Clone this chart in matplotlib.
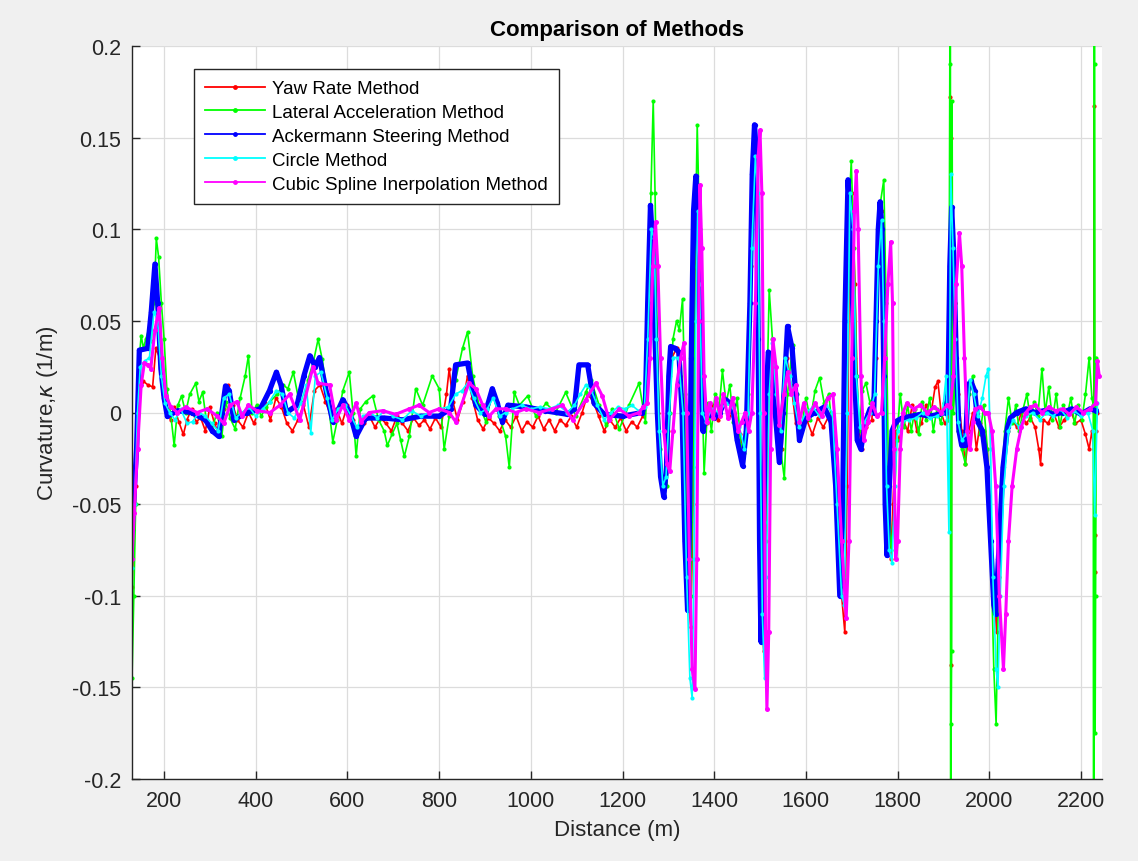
import matplotlib
matplotlib.use("Agg")
import matplotlib.pyplot as plt
from matplotlib.lines import Line2D
from matplotlib.ticker import FuncFormatter

plt.rcParams['font.family'] = ['Liberation Sans', 'DejaVu Sans']
plt.rcParams['axes.unicode_minus'] = False

# (distance m, curvature 1/m)
yaw_rate = [
    (130, -0.095), (138, -0.04), (146, 0.01), (155, 0.017), (165, 0.015), (175, 0.014), (182, 0.035),
    (190, 0.03), (198, 0.01), (206, 0.002), (214, -0.004), (222, 0.003), (232, -0.005), (242, -0.012),
    (250, -0.004), (260, 0.002), (270, -0.005), (280, -0.003), (290, -0.01), (300, 0.003), (310, -0.006),
    (320, -0.012), (330, 0.002), (340, 0.015), (350, 0.004), (360, -0.004), (372, -0.008), (384, 0.0),
    (396, -0.006), (408, 0.002), (420, 0.005), (432, -0.004), (444, 0.008), (456, 0.003), (468, -0.006),
    (480, -0.01), (492, -0.004), (504, 0.004), (516, -0.008), (528, 0.012), (540, 0.015), (552, 0.006),
    (564, -0.002), (576, 0.002), (588, -0.006), (600, 0.004), (612, -0.004), (624, -0.01), (636, -0.006),
    (648, -0.002), (660, -0.008), (672, -0.003), (684, -0.006), (696, -0.01), (708, -0.002), (720, -0.006),
    (732, -0.01), (744, -0.003), (756, -0.007), (768, -0.004), (780, -0.009), (792, -0.003), (804, -0.008),
    (816, 0.01), (822, 0.024), (830, 0.006), (840, -0.004), (852, 0.006), (862, 0.02), (872, 0.008),
    (884, -0.004), (896, -0.009), (908, -0.003), (920, -0.006), (932, -0.01), (944, -0.004), (956, -0.008),
    (968, -0.002), (980, -0.01), (992, -0.005), (1004, -0.008), (1016, -0.002), (1028, -0.009), (1040, -0.004),
    (1052, -0.01), (1064, -0.004), (1076, -0.007), (1088, -0.002), (1100, -0.008), (1112, 0.0), (1124, 0.01),
    (1136, 0.006), (1148, -0.002), (1160, -0.01), (1172, -0.004), (1184, -0.008), (1196, -0.003), (1208, -0.01),
    (1220, -0.005), (1232, -0.008), (1244, -0.002), (1252, 0.01), (1260, 0.07), (1266, 0.1), (1271, 0.07),
    (1278, 0.0), (1286, -0.035), (1294, -0.04), (1300, -0.01), (1308, 0.03), (1318, 0.035), (1326, 0.02),
    (1334, -0.04), (1342, -0.1), (1349, -0.117), (1354, -0.05), (1360, 0.08), (1365, 0.12), (1370, 0.06),
    (1376, 0.0), (1384, -0.006), (1396, 0.004), (1408, -0.004), (1420, 0.006), (1432, -0.002), (1444, 0.004),
    (1456, -0.012), (1464, -0.02), (1472, 0.0), (1480, 0.08), (1487, 0.14), (1493, 0.12), (1498, 0.0),
    (1503, -0.11), (1508, -0.13), (1513, -0.07), (1520, 0.02), (1528, 0.03), (1538, 0.0), (1548, -0.02),
    (1558, 0.03), (1568, 0.015), (1578, -0.006), (1590, -0.01), (1602, -0.004), (1614, -0.012), (1626, -0.003),
    (1638, -0.008), (1650, -0.002), (1660, -0.02), (1670, -0.07), (1678, -0.1), (1685, -0.12), (1690, -0.04),
    (1695, 0.08), (1701, 0.12), (1707, 0.07), (1714, -0.005), (1722, -0.02), (1732, -0.008), (1744, -0.004),
    (1752, 0.03), (1760, 0.1), (1766, 0.11), (1772, 0.03), (1778, -0.06), (1785, -0.08), (1790, -0.05),
    (1796, -0.01), (1804, -0.015), (1812, -0.004), (1822, -0.01), (1832, 0.004), (1842, -0.01), (1852, -0.006),
    (1862, 0.004), (1872, -0.002), (1882, 0.014), (1888, 0.017), (1895, 0.0), (1903, -0.006), (1910, -0.004),
    (1913, 0.005), (1915, 0.172), (1916, 0.15), (1917, -0.138), (1918, 0.05), (1920, 0.01), (1925, 0.06),
    (1932, 0.01), (1940, -0.01), (1948, -0.028), (1956, -0.01), (1964, 0.0), (1972, -0.02), (1980, -0.006),
    (1988, -0.01), (1996, -0.02), (2004, -0.07), (2011, -0.1), (2016, -0.12), (2022, -0.09), (2030, -0.03),
    (2040, -0.01), (2050, -0.004), (2060, -0.008), (2070, 0.0), (2080, -0.006), (2090, -0.003), (2100, -0.008),
    (2108, -0.02), (2112, -0.028), (2118, -0.004), (2128, -0.006), (2140, 0.0), (2152, -0.008), (2164, -0.004),
    (2176, 0.002), (2188, -0.006), (2200, -0.004), (2210, -0.012), (2218, -0.02), (2224, -0.01), (2228, -0.02),
    (2229, 0.167), (2230, -0.087), (2231, -0.067), (2232, -0.01), (2236, 0.0),
]

lateral_acc = [
    (130, -0.145), (134, -0.1), (138, -0.05), (142, 0.0), (146, 0.03), (150, 0.042), (155, 0.035),
    (160, 0.04), (166, 0.045), (172, 0.039), (178, 0.06), (183, 0.095), (188, 0.085), (194, 0.06),
    (200, 0.04), (206, 0.013), (214, 0.0), (222, -0.018), (230, 0.004), (238, 0.009), (247, 0.0),
    (256, 0.01), (269, 0.016), (276, 0.006), (284, 0.011), (292, -0.004), (305, -0.009), (315, 0.0),
    (326, -0.013), (334, 0.006), (344, -0.003), (355, -0.009), (366, 0.008), (377, 0.02), (384, 0.031),
    (392, 0.0), (402, 0.004), (412, -0.002), (422, 0.003), (432, 0.006), (446, 0.01), (460, 0.015),
    (470, 0.013), (482, 0.022), (492, 0.009), (504, 0.005), (514, 0.018), (526, 0.028), (536, 0.04),
    (545, 0.029), (556, 0.01), (568, -0.016), (578, -0.004), (590, 0.012), (604, 0.022), (612, 0.0),
    (619, -0.024), (628, 0.002), (640, 0.006), (655, 0.009), (668, -0.004), (680, -0.01), (687, -0.018),
    (697, -0.012), (708, -0.006), (716, -0.015), (724, -0.024), (735, -0.013), (749, 0.013), (764, 0.004),
    (785, 0.02), (800, 0.013), (811, -0.02), (822, -0.002), (836, 0.018), (851, 0.035), (862, 0.044),
    (873, 0.02), (887, 0.004), (902, -0.005), (916, 0.011), (931, -0.002), (945, -0.013), (953, -0.03),
    (964, 0.011), (975, 0.004), (993, 0.009), (1011, -0.002), (1033, 0.005), (1054, 0.0), (1076, 0.011),
    (1098, -0.002), (1120, 0.011), (1131, 0.018), (1149, 0.004), (1164, -0.007), (1178, 0.002), (1193, -0.009),
    (1214, 0.004), (1236, 0.016), (1250, -0.005), (1256, 0.03), (1262, 0.12), (1267, 0.17), (1271, 0.12),
    (1276, 0.04), (1282, -0.02), (1290, -0.045), (1297, -0.04), (1303, 0.0), (1310, 0.04), (1318, 0.05),
    (1324, 0.045), (1331, 0.062), (1336, 0.01), (1343, -0.09), (1349, -0.1), (1354, -0.03), (1358, 0.08),
    (1363, 0.157), (1368, 0.1), (1373, 0.02), (1378, -0.033), (1386, 0.005), (1394, -0.01), (1402, 0.01),
    (1410, 0.0), (1418, 0.023), (1426, 0.005), (1434, 0.015), (1442, -0.005), (1450, 0.008), (1458, -0.018),
    (1466, -0.022), (1474, 0.01), (1480, 0.09), (1486, 0.15), (1491, 0.13), (1496, 0.02), (1501, -0.1),
    (1506, -0.12), (1511, -0.06), (1516, 0.02), (1520, 0.067), (1527, 0.04), (1535, 0.01), (1545, -0.02),
    (1553, -0.036), (1560, 0.01), (1571, 0.037), (1580, 0.01), (1590, -0.01), (1600, 0.008), (1610, -0.004),
    (1620, 0.012), (1630, 0.019), (1640, 0.005), (1650, 0.01), (1658, -0.01), (1666, -0.05), (1674, -0.095),
    (1680, -0.09), (1686, 0.0), (1692, 0.1), (1699, 0.137), (1705, 0.09), (1711, 0.02), (1717, -0.01),
    (1723, 0.012), (1731, 0.016), (1740, 0.005), (1748, 0.01), (1754, 0.06), (1760, 0.11), (1770, 0.127),
    (1775, 0.06), (1780, -0.03), (1786, -0.075), (1792, -0.06), (1798, -0.015), (1806, 0.01), (1814, -0.008),
    (1822, 0.004), (1830, -0.01), (1838, 0.002), (1846, -0.012), (1854, 0.006), (1862, -0.004), (1870, 0.008),
    (1878, -0.01), (1886, 0.002), (1894, -0.006), (1902, 0.005), (1908, -0.004), (1912, 0.01), (1914, 0.19),
    (1915, 0.5), (1916, -0.5), (1917, -0.17), (1918, -0.13), (1919, 0.17), (1920, 0.06), (1922, 0.0),
    (1926, 0.02), (1932, -0.01), (1940, -0.02), (1948, -0.028), (1956, 0.01), (1964, 0.02), (1972, 0.0),
    (1980, -0.012), (1988, 0.004), (1996, -0.02), (2004, -0.08), (2010, -0.14), (2015, -0.17), (2020, -0.1),
    (2026, -0.04), (2034, -0.01), (2042, 0.008), (2050, -0.006), (2058, 0.004), (2066, -0.01), (2074, 0.002),
    (2082, 0.01), (2090, -0.004), (2098, 0.006), (2106, -0.002), (2115, 0.024), (2122, 0.0), (2130, 0.014),
    (2138, -0.004), (2146, 0.01), (2154, -0.008), (2162, 0.004), (2170, -0.002), (2178, 0.008), (2186, -0.006),
    (2194, 0.004), (2202, -0.004), (2210, 0.01), (2218, 0.03), (2224, 0.008), (2227, 0.004), (2228, -0.5),
    (2229, 0.5), (2230, 0.19), (2231, -0.175), (2232, -0.1), (2234, 0.03),
]

ackermann = [
    (130, -0.064), (140, -0.02), (146, 0.034), (164, 0.035), (172, 0.055), (180, 0.081), (186, 0.06),
    (193, 0.024), (200, 0.008), (207, -0.002), (230, 0.001), (260, 0.0), (290, -0.004), (305, -0.01),
    (319, -0.013), (326, 0.0), (334, 0.0145), (342, 0.012), (352, -0.004), (380, 0.0), (410, 0.002),
    (430, 0.012), (445, 0.022), (455, 0.015), (467, 0.0), (490, 0.004), (505, 0.02), (518, 0.031),
    (530, 0.025), (539, 0.03), (555, 0.01), (568, -0.005), (590, 0.007), (605, 0.0), (619, -0.013),
    (640, -0.003), (680, -0.003), (720, -0.004), (760, -0.002), (800, -0.002), (825, 0.002), (836, 0.026),
    (862, 0.027), (880, 0.004), (900, -0.001), (916, 0.013), (927, 0.005), (938, -0.005), (950, 0.004),
    (990, 0.003), (1030, 0.001), (1080, -0.001), (1095, 0.002), (1105, 0.026), (1124, 0.026), (1138, 0.005),
    (1160, -0.001), (1200, -0.002), (1243, 0.0), (1250, 0.005), (1255, 0.06), (1261, 0.113), (1266, 0.09),
    (1271, 0.04), (1276, 0.0), (1283, -0.035), (1290, -0.046), (1296, -0.03), (1301, 0.02), (1305, 0.036),
    (1315, 0.035), (1323, 0.033), (1330, 0.0), (1336, -0.07), (1342, -0.108), (1346, -0.06), (1350, 0.03),
    (1355, 0.11), (1360, 0.129), (1365, 0.1), (1370, 0.03), (1375, -0.01), (1385, 0.0), (1400, -0.003),
    (1412, 0.0), (1425, 0.007), (1440, 0.004), (1450, -0.015), (1462, -0.029), (1470, -0.01), (1478, 0.06),
    (1483, 0.13), (1488, 0.157), (1492, 0.14), (1496, 0.04), (1499, -0.07), (1502, -0.125), (1506, -0.08),
    (1512, 0.0), (1518, 0.033), (1530, 0.01), (1542, -0.027), (1550, 0.0), (1560, 0.047), (1570, 0.035),
    (1578, 0.01), (1586, -0.015), (1600, -0.003), (1620, 0.0), (1640, 0.003), (1655, -0.005), (1665, -0.04),
    (1674, -0.1), (1680, -0.06), (1685, 0.05), (1692, 0.127), (1698, 0.1), (1705, 0.03), (1712, -0.015),
    (1720, -0.02), (1730, -0.005), (1740, 0.002), (1748, 0.0), (1753, 0.05), (1758, 0.1), (1762, 0.115),
    (1766, 0.1), (1770, 0.02), (1773, -0.05), (1777, -0.078), (1782, -0.04), (1788, -0.01), (1796, -0.005),
    (1810, -0.003), (1830, -0.002), (1850, -0.001), (1870, -0.002), (1890, -0.001), (1905, 0.0), (1910, 0.01),
    (1914, 0.08), (1918, 0.112), (1922, 0.09), (1928, 0.03), (1934, -0.01), (1940, -0.018), (1948, -0.018),
    (1954, 0.015), (1960, 0.017), (1968, 0.012), (1975, -0.005), (1985, -0.01), (1995, -0.03), (2003, -0.07),
    (2010, -0.105), (2014, -0.11), (2020, -0.08), (2030, -0.03), (2040, -0.008), (2046, -0.003), (2060, 0.0),
    (2080, 0.002), (2100, 0.0), (2120, 0.001), (2140, -0.001), (2160, 0.0), (2180, 0.002), (2200, -0.001),
    (2220, 0.002), (2232, 0.001),
]

circle = [
    (130, -0.085), (136, -0.05), (142, 0.0), (148, 0.025), (158, 0.028), (168, 0.03), (178, 0.055),
    (186, 0.05), (194, 0.02), (202, 0.005), (212, 0.0), (224, -0.004), (236, 0.002), (250, -0.006),
    (262, -0.005), (276, 0.0), (290, -0.002), (304, -0.006), (318, -0.01), (330, 0.008), (342, 0.01),
    (356, -0.003), (370, 0.0), (385, 0.003), (400, -0.002), (415, 0.002), (430, 0.006), (445, 0.012),
    (458, 0.01), (470, 0.0), (484, -0.003), (498, 0.005), (510, 0.015), (520, -0.011), (530, 0.02),
    (542, 0.022), (556, 0.008), (566, -0.004), (580, 0.002), (595, 0.004), (608, -0.002), (620, -0.008),
    (635, -0.002), (650, 0.0), (665, -0.003), (680, 0.001), (700, -0.002), (720, -0.004), (740, 0.001),
    (760, -0.002), (780, 0.0), (800, 0.002), (820, 0.003), (836, 0.01), (850, 0.012), (862, 0.016),
    (875, 0.008), (890, 0.0), (905, 0.002), (918, 0.008), (932, -0.002), (945, 0.0), (960, 0.002),
    (980, 0.004), (1000, 0.002), (1020, 0.003), (1040, 0.002), (1060, 0.004), (1080, 0.0), (1095, 0.004),
    (1108, 0.01), (1120, 0.015), (1132, 0.012), (1145, 0.004), (1160, -0.004), (1175, 0.0), (1190, 0.003),
    (1205, 0.002), (1220, 0.004), (1235, 0.001), (1248, 0.003), (1255, 0.04), (1263, 0.1), (1269, 0.095),
    (1274, 0.04), (1280, -0.01), (1288, -0.04), (1295, -0.035), (1302, 0.0), (1310, 0.03), (1322, 0.03),
    (1332, 0.0), (1340, -0.09), (1347, -0.145), (1352, -0.156), (1356, -0.08), (1360, 0.05), (1364, 0.11),
    (1368, 0.07), (1374, 0.0), (1382, -0.005), (1395, 0.002), (1410, 0.0), (1425, 0.005), (1440, 0.003),
    (1455, -0.008), (1466, -0.02), (1474, 0.0), (1482, 0.09), (1490, 0.14), (1495, 0.12), (1500, 0.0),
    (1505, -0.11), (1510, -0.145), (1514, -0.09), (1520, 0.01), (1527, 0.038), (1535, 0.01), (1545, -0.01),
    (1555, 0.03), (1565, 0.02), (1575, 0.005), (1585, -0.008), (1600, 0.0), (1615, 0.003), (1630, -0.002),
    (1645, 0.004), (1658, 0.0), (1668, -0.05), (1678, -0.1), (1684, -0.105), (1690, 0.0), (1696, 0.12),
    (1703, 0.1), (1710, 0.02), (1718, -0.008), (1728, -0.005), (1740, 0.0), (1750, 0.01), (1758, 0.08),
    (1765, 0.105), (1770, 0.05), (1776, -0.04), (1782, -0.075), (1788, -0.082), (1794, -0.04), (1800, -0.01),
    (1810, -0.005), (1825, -0.004), (1840, -0.003), (1855, 0.0), (1870, -0.003), (1885, -0.002), (1898, 0.0),
    (1906, 0.02), (1912, -0.065), (1916, 0.13), (1921, 0.09), (1926, 0.04), (1932, -0.005), (1940, -0.015),
    (1950, -0.012), (1958, 0.018), (1966, 0.01), (1975, -0.002), (1985, 0.008), (1993, 0.02), (1998, 0.024),
    (2003, -0.02), (2008, -0.09), (2015, -0.14), (2019, -0.15), (2024, -0.1), (2032, -0.04), (2042, -0.01),
    (2052, -0.004), (2065, -0.008), (2080, -0.002), (2095, 0.0), (2110, -0.004), (2125, 0.0), (2140, -0.002),
    (2155, 0.002), (2170, -0.003), (2185, 0.001), (2200, -0.002), (2215, 0.0), (2226, -0.01), (2230, -0.056),
    (2236, 0.005),
]

cubic_spline = [
    (130, -0.08), (135, -0.055), (142, -0.02), (150, 0.015), (157, 0.027), (165, 0.026), (171, 0.024),
    (180, 0.045), (189, 0.057), (196, 0.03), (204, 0.009), (215, 0.003), (229, 0.0), (247, 0.003),
    (272, 0.0), (294, 0.002), (316, -0.002), (330, -0.006), (344, 0.004), (359, 0.006), (370, -0.002),
    (384, 0.004), (402, 0.001), (431, 0.0), (453, 0.004), (474, 0.01), (496, -0.004), (525, 0.025),
    (536, 0.016), (561, 0.015), (575, -0.004), (590, 0.004), (604, -0.004), (619, 0.005), (630, -0.005),
    (648, 0.0), (677, 0.001), (705, -0.001), (735, 0.002), (756, 0.004), (778, 0.0), (800, 0.002),
    (822, 0.0), (836, -0.005), (865, 0.016), (880, 0.013), (895, 0.004), (909, -0.002), (924, 0.002),
    (945, 0.002), (967, 0.0), (989, 0.002), (1018, 0.0), (1047, 0.002), (1069, 0.004), (1091, -0.004),
    (1120, 0.007), (1142, 0.016), (1156, 0.009), (1171, -0.004), (1193, 0.002), (1214, -0.002), (1236, 0.0),
    (1245, 0.003), (1254, 0.005), (1260, 0.03), (1266, 0.08), (1272, 0.104), (1277, 0.08), (1283, 0.03),
    (1290, -0.01), (1297, -0.028), (1303, -0.032), (1310, -0.01), (1318, 0.015), (1327, 0.03), (1334, 0.038),
    (1340, 0.0), (1346, -0.08), (1352, -0.14), (1358, -0.151), (1362, -0.08), (1366, 0.05), (1369, 0.124),
    (1373, 0.09), (1378, 0.02), (1384, -0.005), (1390, 0.005), (1398, -0.003), (1405, 0.008), (1413, -0.002),
    (1420, 0.01), (1430, -0.003), (1440, 0.008), (1452, -0.01), (1460, -0.005), (1468, 0.0), (1475, -0.01),
    (1482, 0.0), (1490, 0.06), (1496, 0.14), (1500, 0.154), (1504, 0.12), (1508, 0.0), (1512, -0.12),
    (1515, -0.162), (1519, -0.12), (1523, -0.02), (1528, 0.04), (1535, 0.025), (1542, -0.007), (1552, 0.01),
    (1560, 0.022), (1568, 0.01), (1578, 0.015), (1586, -0.005), (1595, 0.005), (1605, -0.003), (1620, 0.005),
    (1635, -0.002), (1648, 0.008), (1659, 0.01), (1668, -0.02), (1678, -0.07), (1688, -0.112), (1694, -0.07),
    (1700, 0.03), (1706, 0.11), (1710, 0.132), (1714, 0.1), (1720, 0.02), (1726, -0.015), (1735, -0.005),
    (1745, 0.005), (1755, -0.002), (1765, 0.0), (1772, 0.03), (1779, 0.07), (1785, 0.093), (1789, 0.06),
    (1792, -0.02), (1796, -0.08), (1800, -0.07), (1806, -0.02), (1812, 0.0), (1820, 0.005), (1835, 0.002),
    (1850, 0.004), (1865, 0.0), (1880, 0.003), (1895, 0.0), (1908, 0.004), (1915, 0.003), (1922, 0.02),
    (1928, 0.07), (1935, 0.098), (1940, 0.08), (1946, 0.03), (1952, -0.01), (1958, -0.02), (1964, -0.005),
    (1970, 0.002), (1980, 0.003), (1990, 0.0), (1998, 0.0), (2006, -0.01), (2014, -0.04), (2022, -0.1),
    (2031, -0.14), (2036, -0.11), (2042, -0.07), (2050, -0.04), (2060, -0.02), (2070, -0.008), (2080, 0.0),
    (2090, 0.003), (2100, 0.004), (2115, 0.0), (2130, 0.003), (2145, 0.001), (2160, 0.002), (2175, -0.001),
    (2190, 0.003), (2205, 0.0), (2220, 0.002), (2232, 0.005), (2236, 0.028), (2240, 0.02),
]

series = [
    ("Yaw Rate Method", yaw_rate, "#ff0000", 1.2, 3.0),
    ("Lateral Acceleration Method", lateral_acc, "#00ff00", 1.2, 3.0),
    ("Ackermann Steering Method", ackermann, "#0000ff", 3.8, 3.8),
    ("Circle Method", circle, "#00ffff", 1.2, 3.0),
    ("Cubic Spline Inerpolation Method", cubic_spline, "#ff00ff", 2.2, 3.6),
]

fig = plt.figure(figsize=(11.38, 8.62), dpi=100, facecolor="#f0f0f0")
ax = fig.add_axes([132 / 1138, 1 - 780 / 862, 970 / 1138, 733 / 862])

handles = []
for name, pts, color, lw, ms in series:
    d, k = zip(*pts)
    ax.plot(d, k, color=color, lw=lw, marker="o", ms=ms, mew=0, solid_joinstyle="round")
    handles.append(Line2D([], [], color=color, lw=1.3, marker="o", ms=3.5, mew=0, label=name))

ax.set_xlim(130, 2246)
ax.set_ylim(-0.2, 0.2)
ax.set_xticks(range(200, 2201, 200))
ax.set_yticks([-0.2, -0.15, -0.1, -0.05, 0, 0.05, 0.1, 0.15, 0.2])
ax.yaxis.set_major_formatter(FuncFormatter(lambda v, p: f"{v:g}"))
ax.grid(True, color="#dcdcdc", lw=0.9)
ax.set_axisbelow(True)
for s in ["top", "right"]:
    ax.spines[s].set_visible(False)
for s in ["left", "bottom"]:
    ax.spines[s].set_color("#262626")
    ax.spines[s].set_linewidth(1.0)
ax.tick_params(direction="in", length=6, width=1, colors="#262626", labelsize=15.5, pad=8)

ax.set_xlabel("Distance (m)", fontsize=16, color="#262626", labelpad=6)
ax.set_ylabel("Curvature,$\\kappa$ (1/m)", fontsize=16, color="#262626", labelpad=8)
ax.set_title("Comparison of Methods", fontsize=16, fontweight="bold", pad=8)

leg = ax.legend(handles=handles, loc="upper left", bbox_to_anchor=(0.064, 0.969), borderaxespad=0,
                fontsize=13.5, frameon=True, fancybox=False, framealpha=1, edgecolor="#262626",
                handlelength=3.2, handletextpad=0.35, labelspacing=0.36, borderpad=0.6)
leg.get_frame().set_linewidth(1.0)

fig.savefig("out.png", dpi=100, facecolor=fig.get_facecolor())
